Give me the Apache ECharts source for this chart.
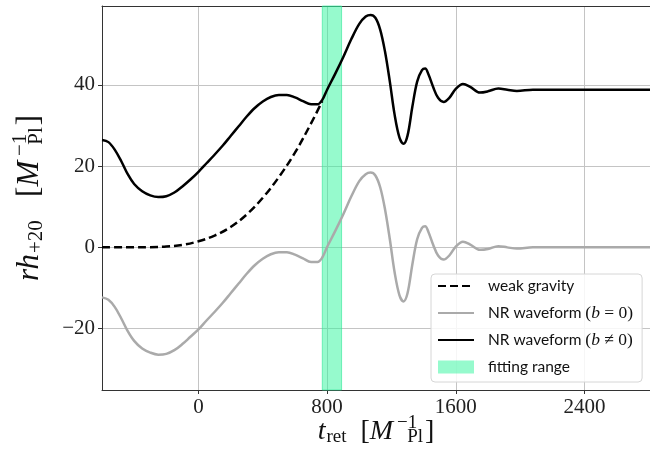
<!DOCTYPE html>
<html>
<head>
<meta charset="utf-8">
<script src="https://cdn.jsdelivr.net/npm/echarts@6/dist/echarts.min.js"></script>
<style>
html,body{margin:0;padding:0;background:#fff;}
#chart{width:650px;height:450px;}
</style>
</head>
<body>
<div id="chart"></div>
<script>
// ---- data ----
const tNR = [-600,-560,-520,-480,-440,-400,-350,-300,-250,-200,-150,-100,-50,0,50,100,150,200,250,300,350,400,450,500,550,600,650,700,740,770,800,850,900,950,1000,1040,1070,1100,1130,1160,1190,1220,1250,1275,1300,1330,1360,1390,1410,1430,1460,1490,1525,1560,1600,1645,1690,1750,1800,1865,1920,1980,2080,2200,2400,2600,2808];
const hNRb = [26.4,25.9,24.0,21.2,18.0,15.6,13.8,12.8,12.4,12.6,13.5,15.0,16.7,18.6,20.7,22.8,25.0,27.4,29.8,32.2,34.3,35.9,37.0,37.5,37.5,36.9,36.0,35.2,35.2,36.3,38.8,42.7,46.8,51.2,55.0,56.8,57.2,56.5,53.6,48.2,40.8,32.6,27.0,25.5,27.5,34.6,40.8,43.6,44.0,42.6,39.4,36.8,35.8,36.8,39.0,40.2,39.5,38.1,38.4,39.1,38.8,38.5,38.8,38.8,38.8,38.8,38.8];
const hNR0 = [-12.3,-12.9,-14.7,-17.5,-20.6,-23.0,-24.9,-25.9,-26.4,-26.2,-25.3,-23.8,-22.0,-20.2,-18.0,-15.9,-13.7,-11.3,-8.9,-6.5,-4.4,-2.8,-1.7,-1.2,-1.2,-1.8,-2.7,-3.6,-3.6,-2.5,0.1,4.0,8.1,12.5,16.3,18.0,18.4,17.7,14.8,9.4,2.0,-6.2,-11.8,-13.3,-11.3,-4.2,2.0,4.8,5.2,3.8,0.6,-2.0,-3.0,-2.0,0.2,1.4,0.7,-0.6,-0.4,0.3,0.0,-0.3,0.0,0.0,0.0,0.0,0.0];
const tWeak = [-600,-500,-400,-300,-200,-100,0,100,200,300,400,500,600,700,770];
const hWeak = [0,0,0,0.05,0.2,0.6,1.5,2.9,5.0,8.1,12.2,17.3,23.3,30.5,36.0];
const fitRange = [770, 890];
const xTicks = [0, 800, 1600, 2400];
const yTicks = [-20, 0, 20, 40];
const seriesNames = ['weak gravity', 'NR waveform (b = 0)', 'NR waveform (b ≠ 0)', 'fitting range'];

const pairs = (xs, ys) => xs.map((x, i) => [x, ys[i]]);
const minus = v => String(v).replace('-', '\u2212');
const bandColor = 'rgba(45,245,155,0.5)';

const serif = 'Liberation Serif';
function makeRich(big, small) {
  return {
    it: { fontFamily: serif, fontStyle: 'italic', fontSize: big, color: '#111' },
    rm: { fontFamily: serif, fontSize: big, color: '#111' },
    sub: { fontFamily: serif, fontSize: small, color: '#111', padding: [Math.round(big * 0.42), 0, 0, 1] },
    sup: { fontFamily: serif, fontSize: small, color: '#111', padding: [0, 0, Math.round(big * 0.58), Math.round(big * 0.5)], width: 0, align: 'left' },
    sub2: { fontFamily: serif, fontSize: small, color: '#111', padding: [Math.round(big * 0.42), 2, 0, 0] }
  };
}
const chart = echarts.init(document.getElementById('chart'));
chart.setOption({
  animation: false,
  backgroundColor: '#fff',
  grid: { left: 102, right: 0, top: 6, bottom: 60, outerBoundsMode: 'none', containLabel: false },
  xAxis: [{
    type: 'value', min: -600, max: 2808,
    axisLine: { show: true, onZero: false, lineStyle: { color: '#333', width: 1 } },
    axisTick: { show: true, inside: false, length: 4, lineStyle: { color: '#333' }, customValues: xTicks },
    axisLabel: { customValues: xTicks, formatter: minus, fontFamily: serif, fontSize: 21, color: '#222', margin: 7 },
    splitLine: { show: true, lineStyle: { color: '#c4c4c4', width: 1 } },
    name: '{it|t}{sub|ret}{rm|  [}{it|M}{sup|\u22121}{sub2|Pl}{rm|]}',
    nameLocation: 'middle', nameGap: 24, nameMoveOverlap: false,
    nameTextStyle: { fontFamily: serif, fontSize: 28, color: '#111', rich: makeRich(28, 19) }
  }, {
    type: 'value', min: -600, max: 2808, position: 'top',
    axisLine: { show: true, onZero: false, lineStyle: { color: '#333', width: 1 } },
    axisTick: { show: false }, axisLabel: { show: false }, splitLine: { show: false }
  }],
  yAxis: {
    type: 'value', min: -35.1, max: 59.4,
    axisLine: { show: true, onZero: false, lineStyle: { color: '#333', width: 1 } },
    axisTick: { show: true, inside: false, length: 4, lineStyle: { color: '#333' }, customValues: yTicks },
    axisLabel: { customValues: yTicks, formatter: minus, fontFamily: serif, fontSize: 21, color: '#222', margin: 7 },
    splitLine: { show: true, lineStyle: { color: '#c4c4c4', width: 1 } },
    name: '{it|rh}{sub|+20}{rm|   [}{it|M}{sup|\u22121}{sub2|Pl}{rm|]}',
    nameLocation: 'middle', nameGap: 53, nameRotate: 90, nameMoveOverlap: false,
    nameTextStyle: { fontFamily: serif, fontSize: 31, color: '#111', rich: makeRich(31, 21) }
  },
  legend: {
    orient: 'vertical', left: 431, top: 274,
    itemWidth: 36, itemHeight: 13, itemGap: 7,
    padding: [2, 9, 5, 6],
    backgroundColor: 'rgba(255,255,255,0.85)',
    borderColor: '#d6d6d6', borderWidth: 1, borderRadius: 4,
    itemStyle: { opacity: 0 },
    data: [
      { name: seriesNames[0] },
      { name: seriesNames[1] },
      { name: seriesNames[2] },
      { name: seriesNames[3], icon: 'rect', itemStyle: { color: bandColor, opacity: 1 } }
    ],
    formatter: function (n) {
      if (n === seriesNames[1]) return '{s|NR waveform }{m|(}{i|b}{m| = 0)}';
      if (n === seriesNames[2]) return '{s|NR waveform }{m|(}{i|b}{m| \u2260 0)}';
      return '{s|' + n + '}';
    },
    textStyle: {
      fontFamily: 'Lato', fontSize: 15.5, color: '#111', padding: [0, 0, 0, 9], lineHeight: 20,
      rich: {
        s: { fontFamily: 'Lato', fontSize: 15.5, color: '#111', lineHeight: 20 },
        m: { fontFamily: serif, fontSize: 17.5, color: '#111', lineHeight: 20 },
        i: { fontFamily: serif, fontStyle: 'italic', fontSize: 17.5, color: '#111', lineHeight: 20 }
      }
    }
  },
  series: [
    {
      name: seriesNames[0], type: 'line', symbol: 'none', smooth: 0.35, z: 3,
      data: pairs(tWeak, hWeak),
      lineStyle: { color: '#000', width: 2.5, type: [8, 4] },
      itemStyle: { color: '#000' }
    },
    {
      name: seriesNames[1], type: 'line', symbol: 'none', smooth: 0.35, z: 2,
      data: pairs(tNR, hNR0),
      lineStyle: { color: '#aaaaaa', width: 2.5 },
      itemStyle: { color: '#aaaaaa' }
    },
    {
      name: seriesNames[2], type: 'line', symbol: 'none', smooth: 0.35, z: 3,
      data: pairs(tNR, hNRb),
      lineStyle: { color: '#000', width: 2.5 },
      itemStyle: { color: '#000' }
    },
    {
      name: seriesNames[3], type: 'line', symbol: 'none', z: 4, data: [],
      itemStyle: { color: bandColor },
      markArea: {
        silent: true,
        itemStyle: { color: bandColor, borderColor: 'rgba(45,230,150,0.6)', borderWidth: 1 },
        data: [[{ xAxis: fitRange[0] }, { xAxis: fitRange[1] }]]
      }
    }
  ]
});
</script>
</body>
</html>
